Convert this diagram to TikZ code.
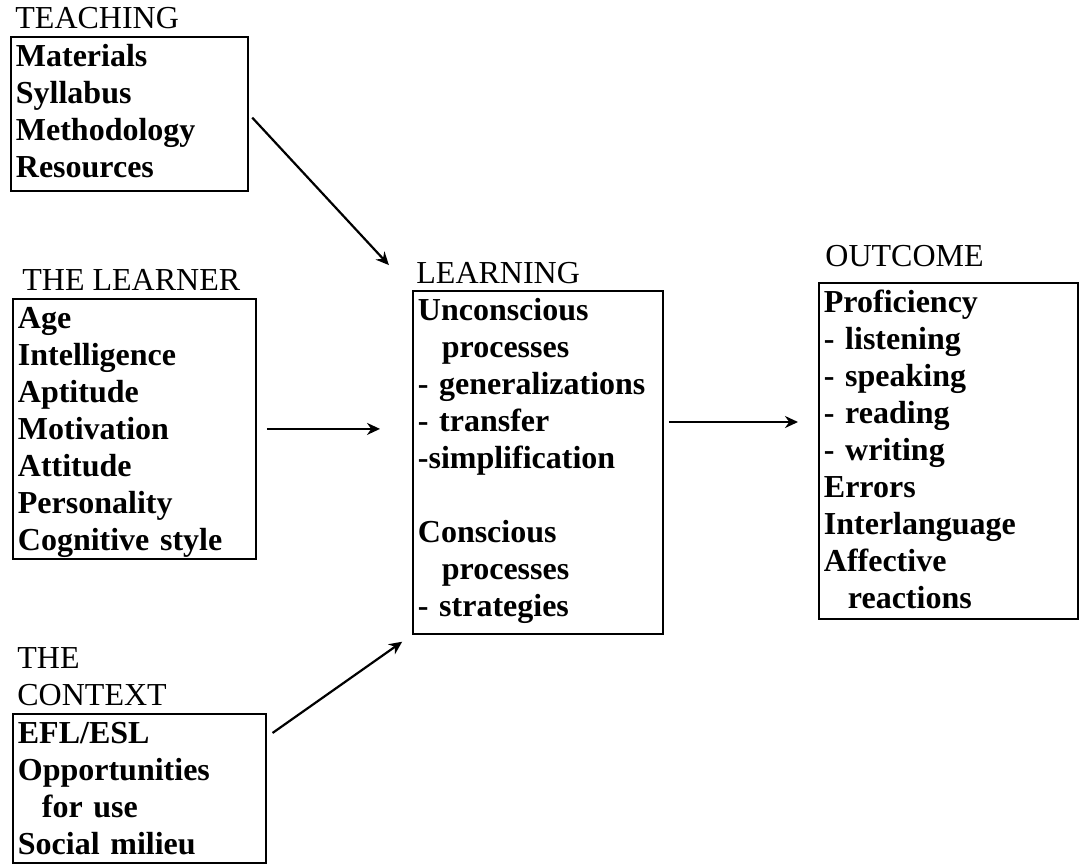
\documentclass[tikz,border=0pt]{standalone}
\usepackage{fontspec}
\setmainfont{Liberation Serif}
\usetikzlibrary{arrows.meta}

\tikzset{
  box/.style={draw, line width=0.9pt, anchor=north west, align=left,
    inner xsep=2.5pt, inner ysep=2pt, text height=13pt,
    font=\fontsize{16}{18.5}\selectfont\bfseries},
  head/.style={anchor=base west, inner sep=0pt, font=\fontsize{16}{18.5}\selectfont},
  arr/.style={-{Stealth[length=6.5pt,width=6pt]}, line width=1.1pt},
}
\newcommand{\ind}{\hspace*{12pt}}

\begin{document}
\begin{tikzpicture}[x=0.5pt,y=-0.5pt]
            \useasboundingbox (0,0) rectangle (1081,864);
            %% the four inputs on the left
            \node[box, text width=113.5pt, text depth=60pt] (teach) at (10,36)
              {Materials\\Syllabus\\Methodology\\Resources};
            \node[head] (teachhead) at (15,28) {TEACHING};

            \node[box, text width=116.5pt, text depth=113pt] (learner) at (12,298)
              {Age\\Intelligence\\Aptitude\\Motivation\\Attitude\\Personality\\Cognitive style};
            \node[head] (learnerhead) at (22,290) {THE LEARNER};

            \node[box, text width=121.5pt, text depth=57.5pt] (context) at (12,713)
              {EFL/ESL\\Opportunities\\\ind for use\\Social milieu};
            \node[head] (contexthead) at (17,668) {THE};
            \node[head] (contexthead2) at (17,705) {CONTEXT};

            %% learning in the middle
            \node[box, text width=120pt, text depth=154.5pt] (learn) at (412,290)
              {Unconscious\\\ind processes\\- generalizations\\- transfer\\-simplification\\[18.5pt]
               Conscious\\\ind processes\\- strategies};
            \node[head] (learnhead) at (416,283) {LEARNING};

            %% outcome on the right
            \node[box, text width=124.5pt, text depth=151pt] (outcome) at (818,282)
              {Proficiency\\- listening\\- speaking\\- reading\\- writing\\Errors\\Interlanguage\\Affective\\\ind reactions};
            \node[head] (outcomehead) at (825,266) {OUTCOME};

            % arrows
            \draw[arr, shorten <=2.5pt, shorten >=17pt] (teach.east) -- (learn.north west);
            \draw[arr, shorten <=5pt, shorten >=16pt] (learner.east) -- (learner.east -| learn.west);
            \coordinate (ctxout) at ([yshift=-12pt]context.north east);
            \draw[arr, shorten <=3.5pt, shorten >=6pt] (ctxout) -- (learn.south west);
            \coordinate (learnout) at ([yshift=-66pt]learn.north east);
            \draw[arr, shorten <=2.5pt, shorten >=10pt] (learnout) -- (learnout -| outcome.west);
        \end{tikzpicture}
\end{document}
